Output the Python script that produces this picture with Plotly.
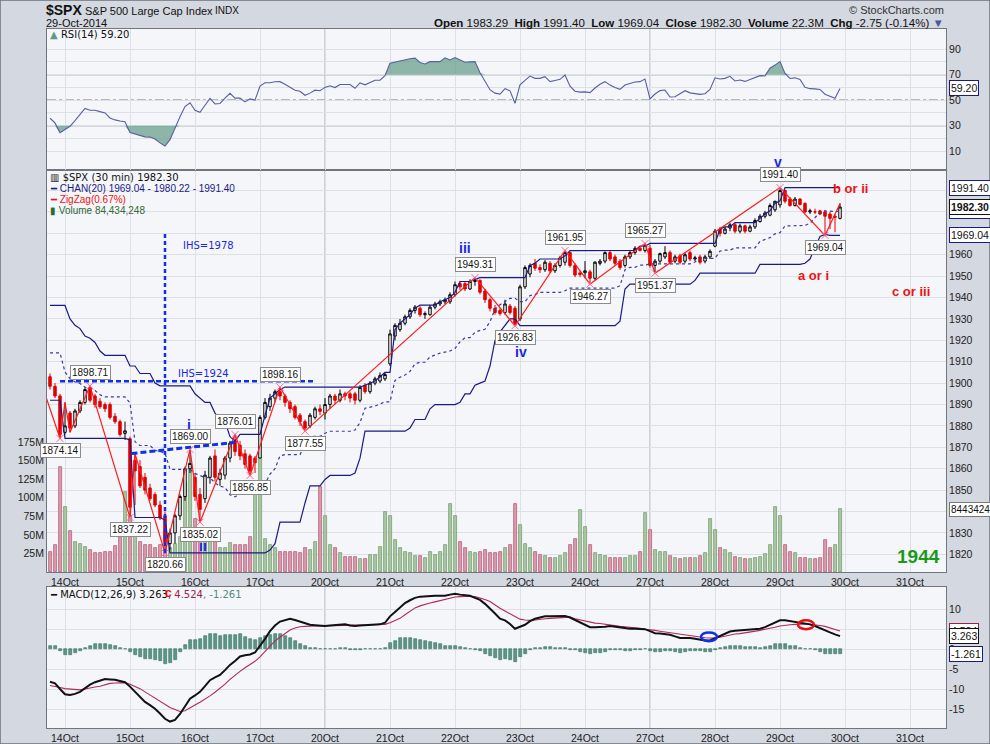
import plotly.graph_objects as go

W, H = 990, 744

# ---- data: $SPX 30 min bars, 13 Oct 14:30 .. 29 Oct 15:30 ----
day_labels = ["14Oct", "15Oct", "16Oct", "17Oct", "20Oct", "21Oct", "22Oct",
              "23Oct", "24Oct", "27Oct", "28Oct", "29Oct", "30Oct", "31Oct"]
BARS_PER_DAY = 13
FIRST_DAY_BAR = 3   # three bars of 13 Oct before the 14 Oct open

opens = [
    1903, 1898.5, 1894,
    1877, 1886, 1880, 1887, 1891, 1898, 1894, 1891.5, 1890, 1890, 1884.5, 1882, 1876.5,
    1874, 1864, 1861, 1856, 1851, 1848, 1843, 1838, 1825, 1830, 1838, 1847, 1860,
    1856, 1848, 1846, 1856, 1866, 1855, 1857, 1865, 1873, 1871, 1867, 1866, 1865,
    1865, 1884, 1889, 1893, 1896, 1894, 1891, 1889, 1885, 1882, 1880, 1884, 1888,
    1886, 1890, 1894, 1892, 1895, 1895, 1895, 1892, 1899, 1896, 1900, 1901, 1902,
    1909, 1922, 1925, 1928, 1931, 1934, 1935, 1932, 1932, 1935.5, 1937, 1938, 1938,
    1941.3, 1946.5, 1946.5, 1944, 1947.5, 1948, 1943, 1939, 1935, 1934, 1933, 1936, 1935,
    1930, 1945, 1951, 1956, 1954, 1953, 1956, 1952.5, 1955, 1956.5, 1961, 1955, 1951.5,
    1951.6, 1952, 1949, 1956, 1957, 1961, 1959, 1957, 1955, 1959, 1961, 1963, 1962,
    1963, 1955, 1957, 1959, 1961, 1957, 1959.5, 1957, 1961, 1958, 1959, 1957, 1959,
    1964, 1972, 1970, 1972.5, 1974, 1971, 1973.5, 1971, 1973, 1975.5, 1978, 1978.5, 1981,
    1983.3, 1990, 1986, 1983, 1986, 1984, 1980, 1980, 1980.5, 1980, 1979, 1978, 1977,
]
highs = [
    1904.5, 1900, 1895,
    1891, 1887, 1888, 1892, 1898, 1898.71, 1895, 1893, 1891, 1891, 1886, 1883, 1882,
    1875, 1867, 1864, 1858, 1853, 1849, 1845, 1840, 1832, 1839, 1848, 1861, 1869,
    1858, 1851, 1859, 1866, 1869, 1860, 1866, 1873, 1876.01, 1873, 1869, 1867, 1866,
    1885, 1893, 1895, 1897, 1898.16, 1895, 1892, 1890, 1886, 1883, 1886, 1889, 1890,
    1893, 1895, 1895, 1897, 1896, 1896, 1896, 1899, 1900, 1901, 1903, 1905, 1905,
    1925, 1928, 1930, 1932, 1935, 1936.5, 1936, 1933.5, 1936.5, 1938, 1939, 1940, 1942.45,
    1947.5, 1947.5, 1947.5, 1948.5, 1949.31, 1948.5, 1944, 1940, 1936.5, 1935, 1939, 1937, 1936,
    1946, 1955, 1956, 1958, 1955.5, 1957.5, 1957, 1956, 1959.5, 1961.95, 1961.5, 1956, 1952.5,
    1957, 1953, 1957, 1958, 1961.5, 1962, 1960, 1958, 1960, 1962, 1964, 1964, 1965.27,
    1964.6, 1958, 1961, 1964, 1962, 1960, 1960.5, 1961, 1962, 1959.5, 1960, 1960, 1962.5,
    1972, 1973, 1973, 1975, 1975, 1974.5, 1974, 1974, 1977, 1979, 1980.5, 1984, 1985.17,
    1991.4, 1990.5, 1987, 1987, 1986.5, 1984.5, 1981.5, 1981.5, 1981, 1981, 1980, 1979, 1984,
]
lows = [
    1897, 1893, 1874.14,
    1876, 1877, 1879, 1886, 1890, 1891, 1888.5, 1888, 1886.5, 1883, 1881, 1875, 1873.5,
    1837.22, 1843, 1851, 1848, 1845, 1842, 1836, 1820.66, 1822, 1825, 1836, 1845, 1858,
    1845, 1835.02, 1844, 1853, 1854, 1852, 1855, 1863, 1866, 1864, 1860, 1856.85, 1858,
    1864.91, 1883, 1887, 1891, 1892, 1889, 1886, 1883, 1880, 1877.55, 1879, 1883, 1885,
    1883, 1888, 1890, 1891, 1892, 1891, 1890, 1891, 1895, 1895, 1899, 1900, 1901,
    1908, 1920, 1924, 1927, 1930, 1932.5, 1931, 1930, 1931.5, 1934.5, 1936, 1937, 1937,
    1940.5, 1943.5, 1943, 1943.5, 1945.5, 1941.5, 1937.5, 1933.5, 1932, 1931.5, 1932, 1932, 1926.83,
    1929, 1944, 1949.5, 1952.5, 1951.5, 1952, 1951.5, 1951.5, 1954, 1955, 1954, 1949.5, 1949.5,
    1949, 1946.27, 1948, 1955, 1956, 1957, 1955, 1953, 1954, 1958, 1960, 1961.5, 1961,
    1954, 1951.37, 1956, 1958, 1955.5, 1956, 1955.5, 1956, 1957, 1957, 1955.5, 1956, 1958,
    1963.5, 1968.5, 1969.5, 1971, 1970, 1970, 1970, 1970.5, 1972, 1975, 1977, 1978, 1980,
    1982, 1984, 1982.5, 1982.5, 1983, 1979.5, 1979, 1979, 1978.5, 1969.04, 1972, 1970.5, 1976.5,
]
closes = [
    1898.5, 1894, 1876,
    1880, 1879, 1887, 1891, 1897, 1892, 1890, 1889, 1888, 1884, 1882, 1876, 1877.7,
    1842, 1859, 1852, 1850, 1846, 1843, 1837, 1826, 1830, 1838, 1847, 1860, 1862.5,
    1847, 1841, 1857, 1865, 1856, 1858, 1865, 1872, 1868, 1866, 1862, 1859, 1862.8,
    1884, 1891, 1893, 1896, 1894, 1891, 1888, 1884, 1882, 1879, 1885, 1888, 1886.8,
    1890, 1894, 1892, 1895, 1894, 1893, 1892, 1898, 1896, 1900, 1902, 1903.5, 1904,
    1923, 1927, 1928, 1931, 1934, 1935.5, 1932, 1932.5, 1935.5, 1937, 1938, 1939, 1941.3,
    1946, 1945, 1944, 1947.5, 1948, 1942.5, 1939, 1935, 1933, 1932.5, 1937, 1933, 1927.1,
    1945, 1954, 1955, 1953.7, 1953, 1956.5, 1952.5, 1955, 1958.5, 1961, 1955, 1950.5, 1950.8,
    1952.5, 1949, 1956.5, 1957, 1961, 1958, 1956, 1954, 1959, 1961, 1963, 1962, 1964.6,
    1955, 1957, 1960.5, 1961, 1956.5, 1959, 1956.5, 1960, 1958, 1958.5, 1956.5, 1959, 1961.6,
    1971, 1970, 1972, 1974, 1971, 1973.5, 1971, 1973, 1976, 1978, 1979.5, 1983, 1985,
    1990, 1985, 1983, 1986, 1983.5, 1980, 1980.5, 1980, 1979, 1978, 1977, 1977.5, 1982.3,
]
volume_m = [
    27, 36, 141,
    88, 55, 41, 38, 33, 29, 25, 25, 27, 27, 35, 50, 108,
    75, 48, 41, 36, 36, 32, 36, 54, 32, 38, 47, 120, 145,
    72, 52, 41, 43, 42, 32, 32, 39, 36, 36, 36, 47, 110,
    153, 45, 36, 32, 27, 27, 27, 27, 25, 32, 29, 41, 115,
    76, 36, 32, 25, 20, 20, 20, 18, 18, 23, 23, 34, 81,
    76, 43, 32, 27, 25, 21, 21, 19, 27, 23, 27, 36, 92,
    76, 41, 32, 27, 25, 27, 29, 25, 25, 27, 32, 36, 92,
    63, 38, 32, 27, 23, 21, 19, 19, 21, 25, 36, 45, 83,
    61, 36, 25, 23, 21, 19, 19, 19, 19, 21, 21, 27, 79,
    56, 29, 27, 27, 21, 19, 18, 19, 19, 19, 21, 26, 72,
    56, 32, 29, 25, 20, 19, 17, 17, 19, 20, 24, 36, 88,
    76, 36, 27, 25, 19, 19, 17, 17, 19, 43, 32, 36, 84.43,
]
rsi = [
    35.8, 32.1, 24.5,
    27, 29.5, 34, 39, 43.5, 42.1, 42.1, 41, 40, 36, 34.5, 33.7, 33,
    24.5, 23.5, 22.4, 21.2, 21, 19.5, 16.5, 14, 19, 28.5, 37, 45, 47.9,
    42.1, 40.5, 46, 51.3, 47, 47.4, 51.5, 55.3, 51.6, 51.6, 48.6, 51, 50,
    61, 63.6, 63.6, 64.4, 64.5, 62.5, 60, 57.8, 57, 53.8, 55.5, 57.8, 57.4,
    60, 61.3, 59.9, 62.3, 62.3, 62.3, 59.3, 63.5, 62, 63.5, 65.6, 65.7, 69.1,
    79, 80, 80.8, 81.6, 82.5, 82.9, 79.5, 78.4, 80.2, 80.2, 80.2, 83.2, 81.5,
    83.4, 81.5, 79.7, 80, 80.2, 71.5, 65, 58.2, 55.5, 54.7, 59, 57.3, 47.5,
    62, 65.5, 68.9, 67.1, 67.1, 68.4, 64.5, 65.4, 66.3, 69.7, 61, 57, 56.3,
    56.5, 55.9, 59.5, 62.5, 64.5, 61.8, 60, 58.5, 61.8, 63.2, 64.2, 64.5, 66.5,
    51, 54.8, 57.5, 57.9, 52.5, 52.6, 55, 57.4, 55.7, 55.3, 54.5, 55, 58.4,
    67.5, 66.6, 67.1, 68.7, 65, 65.8, 64.7, 66, 67.7, 69.2, 69, 75, 77.5,
    80.2, 71, 67, 67.5, 66.2, 60, 59, 58.8, 58.4, 54.6, 53, 51.4, 59.2,
]
macd = [
    -8.1, -8.5, -9.9,
    -11.2, -11.4, -11.1, -10.6, -9.6, -8.8, -8.2, -7.8, -7.4, -7.5, -7.6, -7.9, -8.2,
    -9.3, -10.6, -11.8, -13.1, -13.9, -14.8, -16, -17.3, -18, -17.6, -16.1, -14.2, -12.3,
    -11.5, -10.6, -9.2, -7.7, -7, -6.4, -5.2, -3.9, -2.9, -1.8, -1.5, -1.3, -0.8,
    0.8, 2.6, 4.5, 5.9, 6.9, 7.3, 7.6, 7.3, 6.9, 6.5, 6.1, 6, 5.9,
    5.8, 5.9, 6, 6.1, 6.2, 5.9, 5.8, 5.9, 6, 6, 6.1, 6.2, 6.6,
    8.2, 9.3, 10.4, 11.5, 12.2, 12.8, 13.1, 13.2, 13.3, 13.3, 13.3, 13.3, 13.6,
    13.8, 13.6, 13.5, 13.3, 12.8, 12.3, 11.3, 10.2, 8.9, 7.6, 7.2, 6.3, 5.1,
    5.6, 6.1, 7, 7.6, 7.9, 8.2, 8.2, 8.2, 8.2, 8.3, 7.9, 7.3, 6.7,
    6.1, 5.5, 5.5, 5.5, 5.6, 5.8, 5.6, 5.4, 5.2, 5.1, 5.1, 5.1, 5,
    4.5, 4, 3.9, 3.8, 3.6, 3.2, 2.8, 2.8, 2.8, 2.6, 2.4, 2.2, 2.2,
    2.7, 3.3, 3.9, 4.4, 4.6, 4.7, 4.7, 4.8, 4.9, 5.1, 5.5, 6.1, 6.7,
    7.2, 7.2, 7, 6.9, 6.6, 6.4, 6.2, 5.8, 5.2, 4.6, 4.2, 3.7, 3.263,
]
signal = [
    -9.0, -9.2, -9.5,
    -9.8, -9.9, -10.1, -10.1, -9.9, -9.6, -9.4, -9.2, -8.8, -8.5, -8.4, -8.3, -8.3,
    -8.7, -9.2, -9.8, -10.6, -11.4, -12.2, -13, -13.7, -14.5, -15, -15.5, -15.3, -14.5,
    -13.9, -13.2, -12.5, -11.6, -10.7, -9.8, -8.7, -7.5, -6.4, -5.5, -4.6, -3.8, -3,
    -1.9, -0.6, 0.9, 2.1, 3.0, 3.9, 4.8, 5.3, 5.6, 5.7, 5.8, 5.8, 5.8,
    5.8, 5.9, 5.9, 5.9, 5.95, 6, 6, 6, 6, 6, 6.1, 6.2, 6.2,
    6.6, 7.2, 7.7, 8.6, 9.5, 10.3, 10.8, 11.2, 11.5, 11.8, 12.1, 12.5, 12.8,
    13, 13.1, 13.2, 13.2, 13.1, 12.8, 12.4, 11.9, 11, 10.2, 9.5, 8.9, 8.2,
    7.5, 7.3, 7.2, 7.3, 7.5, 7.6, 7.7, 7.8, 7.9, 8, 8, 7.6, 7.3,
    7, 6.8, 6.5, 6.4, 6.2, 6, 5.9, 5.7, 5.6, 5.5, 5.3, 5.2, 5.0,
    4.9, 4.7, 4.5, 4.3, 4.1, 3.9, 3.7, 3.5, 3.3, 3.1, 2.95, 2.85, 2.8,
    2.8, 3.0, 3.3, 3.6, 3.8, 3.9, 4.1, 4.3, 4.4, 4.7, 5.0, 5.2, 5.5,
    5.8, 6.0, 6.1, 6.2, 6.3, 6.3, 6.2, 6.1, 5.9, 5.7, 5.3, 4.9, 4.524,
]
# highs/lows of the 20 bars before the window (read back from where the channel lines start)
pre_highs = [1930, 1933, 1935, 1936.3, 1930, 1927, 1925.5, 1922, 1921, 1919,
             1915, 1912, 1911, 1910, 1912, 1913, 1907, 1908, 1904, 1903]
pre_lows = [1921, 1925, 1927, 1926, 1920, 1918, 1916, 1914, 1913, 1910,
            1907, 1905, 1903, 1904, 1905, 1902, 1900, 1899, 1896, 1892]

# zigzag(0.67%) turning points: bar index, price, labelled?
zz_bars = [-1, 2, 3, 4, 8, 16, 17, 23, 28, 30, 37, 40, 46, 51, 85, 93, 103, 108, 119, 121, 146, 155, 158]
zz_prices = [1895, 1874.14, 1891, 1877, 1898.71, 1837.22, 1867, 1820.66, 1869.00, 1835.02, 1876.01,
             1856.85, 1898.16, 1877.55, 1949.31, 1926.83, 1961.95, 1946.27, 1965.27, 1951.37,
             1991.40, 1969.04, 1984]
zz_shown = [0, 1, 0, 0, 1, 1, 0, 1, 1, 1, 1, 1, 1, 1, 1, 1, 1, 1, 1, 1, 1, 1, 0]

n = len(closes)
assert all(len(a) == n for a in (opens, highs, lows, volume_m, rsi, macd, signal))

# CHAN(20): high / low of the previous 20 bars
all_highs = pre_highs + highs
all_lows = pre_lows + lows
k0 = len(pre_highs)
chan_up = [max(all_highs[k0 + i - 20:k0 + i]) for i in range(n)]
chan_lo = [min(all_lows[k0 + i - 20:k0 + i]) for i in range(n)]
chan_mid = [(a + b) / 2 for a, b in zip(chan_up, chan_lo)]
macd_hist = [m - s for m, s in zip(macd, signal)]
bars = list(range(n))
day_ticks = [FIRST_DAY_BAR + BARS_PER_DAY * k for k in range(len(day_labels))]
prev_close = [opens[0]] + closes[:-1]
vol_up = [c >= p for c, p in zip(closes, prev_close)]

# ---- page geometry (pixels) ----
X0, X1 = 47, 946
RSI_T, RSI_B = 29, 170
PR_T, PR_B = 170, 572
MA_T, MA_B = 587, 728


def px(x):
    return x / W


def py(y):
    return 1 - y / H


OUTER = "#d4d8e0"
PANEL = "#f5f6fa"
GRID = "#dde0e7"
FRAME = "#70757e"
NAVY = "#1a1a86"
TICKF = dict(family="Liberation Sans", size=10.5, color="#222")
XR = [-0.6, 179.2]

fig = go.Figure()

# volume (base axis, left)
fig.add_trace(go.Bar(
    x=bars, y=volume_m, width=0.6, xaxis="x", yaxis="y",
    marker=dict(color=["#a9c6a2" if u else "#d99aab" for u in vol_up],
                line=dict(color=["#7aa074" if u else "#b8637c" for u in vol_up], width=0.8)),
))

# price channel
for vals, dash in ((chan_up, "solid"), (chan_lo, "solid"), (chan_mid, "dot")):
    fig.add_trace(go.Scatter(x=bars, y=vals, mode="lines", xaxis="x", yaxis="y2",
                             line=dict(color=NAVY if dash == "solid" else "#3a3aa6",
                                       width=1.2, dash=dash)))

fig.add_trace(go.Candlestick(
    x=bars, open=opens, high=highs, low=lows, close=closes, xaxis="x", yaxis="y2",
    increasing=dict(line=dict(color="#000000", width=1), fillcolor="#ffffff"),
    decreasing=dict(line=dict(color="#e00000", width=1), fillcolor="#e00000"),
    whiskerwidth=0,
))

fig.add_trace(go.Scatter(x=zz_bars, y=zz_prices, mode="lines", xaxis="x", yaxis="y2",
                         line=dict(color="#ff1a1a", width=1.2)))
lab_x = [b for b, s in zip(zz_bars, zz_shown) if s]
lab_y = [p for p, s in zip(zz_prices, zz_shown) if s]
fig.add_trace(go.Scatter(x=lab_x, y=lab_y, mode="markers", xaxis="x", yaxis="y2",
                         marker=dict(symbol="x-thin-open", size=7,
                                     line=dict(color="#9a9a9a", width=1))))

# RSI with shaded extremes
fill = "rgba(105,160,140,0.75)"
for lvl, fn in ((70, max), (30, min)):
    fig.add_trace(go.Scatter(x=bars, y=[lvl] * n, mode="lines", xaxis="x2", yaxis="y3",
                             line=dict(width=0), hoverinfo="skip"))
    fig.add_trace(go.Scatter(x=bars, y=[fn(v, lvl) for v in rsi], mode="lines",
                             xaxis="x2", yaxis="y3", fill="tonexty", fillcolor=fill,
                             line=dict(width=0), hoverinfo="skip"))
fig.add_trace(go.Scatter(x=bars, y=rsi, mode="lines", xaxis="x2", yaxis="y3",
                         line=dict(color="#5660a0", width=1.1)))

# MACD
fig.add_trace(go.Bar(x=bars, y=macd_hist, width=0.6, xaxis="x3", yaxis="y4",
                     marker=dict(color="#5f9685", line=dict(color="#33705f", width=0.6))))
fig.add_trace(go.Scatter(x=bars, y=signal, mode="lines", xaxis="x3", yaxis="y4",
                         line=dict(color="#b02a55", width=1.1)))
fig.add_trace(go.Scatter(x=bars, y=macd, mode="lines", xaxis="x3", yaxis="y4",
                         line=dict(color="#111111", width=2)))

xbase = dict(range=XR, tickvals=day_ticks, ticktext=day_labels, showgrid=True,
             gridcolor=GRID, gridwidth=1, zeroline=False, showline=True, linecolor=FRAME,
             linewidth=1, mirror=True, ticks="", tickfont=TICKF, automargin=False,
             fixedrange=True)
ybase = dict(showline=True, linecolor=FRAME, linewidth=1, mirror=True, zeroline=False,
             ticks="", tickfont=TICKF, automargin=False, gridcolor=GRID, fixedrange=True)

fig.update_layout(
    width=W, height=H, margin=dict(l=0, r=0, t=0, b=0),
    paper_bgcolor=OUTER, plot_bgcolor=PANEL, showlegend=False, bargap=0,
    xaxis=dict(xbase, domain=[px(X0), px(X1)], anchor="y", showticklabels=True,
               rangeslider=dict(visible=False)),
    yaxis=dict(ybase, domain=[py(PR_B), py(PR_T)], range=[0, 541], side="left",
               tickvals=[25, 50, 75, 100, 125, 150, 175],
               ticktext=["25M", "50M", "75M", "100M", "125M", "150M", "175M"],
               showgrid=False),
    yaxis2=dict(ybase, overlaying="y", anchor="x", side="right", range=[1811.74, 1999.6],
                tickvals=list(range(1820, 2000, 10)),
                ticktext=[str(v) if v <= 1960 else "" for v in range(1820, 2000, 10)],
                showgrid=True),
    xaxis2=dict(xbase, domain=[px(X0), px(X1)], anchor="y3", showticklabels=False),
    yaxis3=dict(ybase, domain=[py(RSI_B), py(RSI_T)], anchor="x2", side="right",
                range=[-4.8, 105.8], tickvals=list(range(10, 100, 10)),
                ticktext=[str(v) if v % 20 == 10 else "" for v in range(10, 100, 10)]),
    xaxis3=dict(xbase, domain=[px(X0), px(X1)], anchor="y4", showticklabels=True),
    yaxis4=dict(ybase, domain=[py(MA_B), py(MA_T)], anchor="x3", side="right",
                range=[-19.6, 15.5], tickvals=[-15, -10, -5, 0, 5, 10],
                ticktext=["-15", "-10", "-5", "0", "", "10"]),
)

shapes = []
# darker week separators (Mondays)
for xr, yr in (("x", "y domain"), ("x2", "y3 domain"), ("x3", "y4 domain")):
    for b in (day_ticks[4], day_ticks[9]):
        shapes.append(dict(type="line", xref=xr, yref=yr, x0=b, x1=b, y0=0, y1=1,
                           line=dict(color="#a8adb6", width=1), layer="below"))
# RSI reference levels
for lvl, dash in ((70, "solid"), (30, "solid"), (50, "dashdot")):
    shapes.append(dict(type="line", xref="x2 domain", yref="y3", x0=0, x1=1, y0=lvl, y1=lvl,
                       line=dict(color="#7d7d7d", width=1.2, dash=dash), layer="below"))
# inverse head & shoulders drawing
IHS = "#1030e8"
shapes += [
    dict(type="line", xref="x", yref="y2", x0=23, x1=23, y0=1820.66, y1=1970.5,
         line=dict(color=IHS, width=2.5, dash="4px,3px")),
    dict(type="line", xref="x", yref="y2", x0=2, x1=53, y0=1900.9, y1=1900.9,
         line=dict(color=IHS, width=2.5, dash="5px,3px")),
    dict(type="line", xref="x", yref="y2", x0=16.3, x1=37, y0=1867.1, y1=1872.3,
         line=dict(color=IHS, width=3, dash="6px,3px")),
]
# MACD crossover circles
shapes += [
    dict(type="circle", xref="x3", yref="y4", x0=130.2, x1=133.4, y0=2.0, y1=4.2,
         line=dict(color="#1030e8", width=2.5)),
    dict(type="circle", xref="x3", yref="y4", x0=149.6, x1=152.8, y0=5.0, y1=7.2,
         line=dict(color="#e81010", width=2.5)),
]
# outer frame
shapes.append(dict(type="rect", xref="paper", yref="paper", x0=0, x1=1, y0=0, y1=1,
                   line=dict(color="#6c717a", width=1.5)))
fig.update_layout(shapes=shapes)

ann = []


def text(x, y, s, size=11, color="#111", family="Liberation Sans", anchor="left", bold=False):
    ann.append(dict(x=px(x), y=py(y), xref="paper", yref="paper", showarrow=False,
                    text=f"<b>{s}</b>" if bold else s, xanchor=anchor, yanchor="middle",
                    font=dict(family=family, size=size, color=color)))


# header
text(44, 10, "$SPX", size=14, bold=True)
text(83, 11, "S&P 500 Large Cap Index", size=11)
text(213, 11, "INDX", size=10)
text(44, 23, "29-Oct-2014", size=11)
text(946, 10, "© StockCharts.com", size=11, color="#333", anchor="right")
text(946, 23, "<b>Open</b> 1983.29  <b>High</b> 1991.40  <b>Low</b> 1969.04  "
              "<b>Close</b> 1982.30  <b>Volume</b> 22.3M  <b>Chg</b> -2.75 (-0.14%) "
              "<span style='color:#4a58a0'>▼</span>", size=11.5, anchor="right")

# panel legends
text(48, 35, "<span style='color:#5f9a88'>▲</span> RSI(14) 59.20", size=10, family="DejaVu Sans")
text(48, 177, "▥ $SPX (30 min) 1982.30", size=10, family="DejaVu Sans")
text(48, 188, f"<span style='color:{NAVY}'>━ CHAN(20) 1969.04 - 1980.22 - 1991.40</span>", size=10)
text(48, 199.5, "<span style='color:#ee1111'>━ ZigZag(0.67%)</span>", size=10)
text(48, 210.5, "<span style='color:#2f6a34'>▮ Volume 84,434,248</span>", size=10)
text(48, 594, "━ MACD(12,26,9) 3.263<span style='color:#a0204a'>, 4.524</span>"
              "<span style='color:#4d8c78'>, -1.261</span>", size=10, family="DejaVu Sans")

# wave counts and notes
BLUE = "#1a28e0"
for s, x, y in (("i", 189, 425), ("ii", 203, 546), ("iii", 465, 248),
                ("iv", 521, 352), ("v", 778, 162)):
    text(x, y, s, size=14, color=BLUE, bold=True, anchor="center")
for s, x, y in (("b or ii", 850, 188), ("a or i", 813, 275), ("c or iii", 911, 291)):
    text(x, y, s, size=13, color="#ee1111", bold=True, anchor="center")
text(168, 593, "c", size=12, color="#ee1111", bold=True, anchor="center")
text(918, 556, "1944", size=19, color="#1a9a1a", bold=True, anchor="center")
text(181, 245, "IHS=1978", size=10, color=BLUE, family="DejaVu Sans")
text(176, 373, "IHS=1924", size=10, color=BLUE, family="DejaVu Sans")

# zigzag value labels
for i, (b, p, s) in enumerate(zip(zz_bars, zz_prices, zz_shown)):
    if not s:
        continue
    is_high = p > zz_prices[i - 1]
    ann.append(dict(x=b, y=p, xref="x", yref="y2", showarrow=False,
                    text=f"{p:.2f}", yshift=13 if is_high else -12,
                    bgcolor="#ffffff", bordercolor="#8c8c8c", borderwidth=1, borderpad=1,
                    font=dict(family="Liberation Sans", size=10, color="#111")))


def tag(s, y, yref, border, bold=False, size=10.5):
    ann.append(dict(x=px(X1) + 0.003, y=y, xref="paper", yref=yref, showarrow=False,
                    text=f"<b>{s}</b>" if bold else s, xanchor="left", yanchor="middle",
                    bgcolor="#ffffff", bordercolor=border, borderwidth=1, borderpad=1,
                    font=dict(family="Liberation Sans", size=size, color="#111")))


tag("1991.40", chan_up[-1], "y2", NAVY)
tag(f"{chan_mid[-1]:.2f}", chan_mid[-1], "y2", NAVY)
tag(f"{closes[-1]:.2f}", closes[-1], "y2", "#111", bold=True)
tag(f"{chan_lo[-1]:.2f}", chan_lo[-1], "y2", NAVY)
tag("8443424", volume_m[-1], "y", "#777", size=10)
tag(f"{rsi[-1]:.2f}", rsi[-1], "y3", NAVY)
tag(f"{signal[-1]:.3f}", signal[-1], "y4", "#a0204a")
tag(f"{macd[-1]:.3f}", macd[-1], "y4", "#111")
tag(f"{macd_hist[-1]:.3f}", macd_hist[-1], "y4", NAVY)

fig.update_layout(annotations=ann)
# drop the browser's default page margin so the 990x744 figure fills the window exactly
fig.write_html("out.html", config={"displayModeBar": False},
               post_script="document.body.style.margin='0';document.body.style.overflow='hidden';")
